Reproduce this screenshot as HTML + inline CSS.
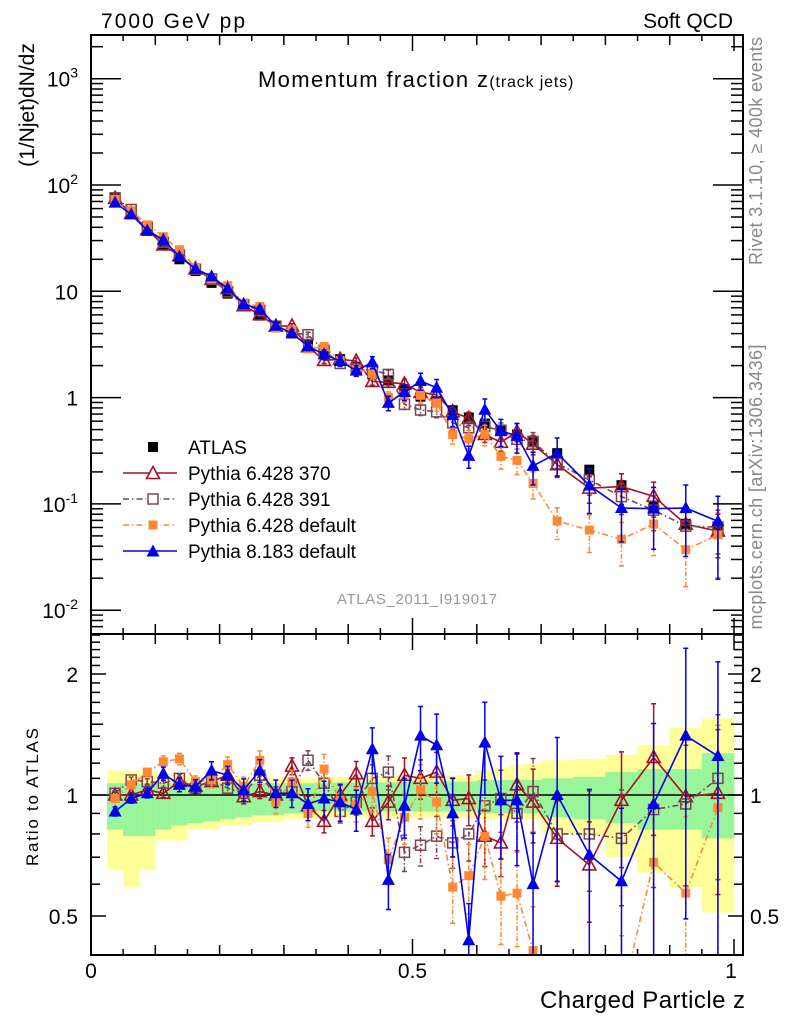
<!DOCTYPE html>
<html><head><meta charset="utf-8"><style>
html,body{margin:0;background:#fff;width:786px;height:1024px;overflow:hidden;font-family:"Liberation Sans",sans-serif}
svg{position:absolute;left:0;top:0;display:block}
text{font-family:"Liberation Sans",sans-serif}
</style></head><body>
<svg id="chart" width="786" height="1024" viewBox="0 0 786 1024" xmlns="http://www.w3.org/2000/svg">
<g id="ratioBands"></g>
<g id="marks"></g>
<g id="axes"></g>
<text x="101" y="28" font-size="21" textLength="144">7000 GeV pp</text>
<text x="733" y="28" font-size="21" text-anchor="end">Soft QCD</text>
<text x="258" y="87" font-size="22"><tspan textLength="230">Momentum fraction z</tspan><tspan font-size="16" textLength="84">(track jets)</tspan></text>
<text transform="translate(34,105) rotate(-90)" font-size="21" text-anchor="middle">(1/Njet)dN/dz</text>
<text transform="translate(38,797) rotate(-90)" font-size="17" text-anchor="middle" textLength="138">Ratio to ATLAS</text>
<text x="745" y="1008" font-size="24" text-anchor="end" textLength="205">Charged Particle z</text>
<text transform="translate(762,151) rotate(-90)" font-size="18" fill="#888" text-anchor="middle" textLength="228">Rivet 3.1.10, ≥ 400k events</text>
<text transform="translate(762,487) rotate(-90)" font-size="18" fill="#888" text-anchor="middle" textLength="285">mcplots.cern.ch [arXiv:1306.3436]</text>
<text x="417" y="604" font-size="15" fill="#999" text-anchor="middle" textLength="160">ATLAS_2011_I919017</text>
<g id="legend"></g>
</svg>
<script>
const binCenters=[0.0375,0.0625,0.0875,0.1125,0.1375,0.1625,0.1875,0.2125,0.2375,0.2625,0.2875,0.3125,0.3375,0.3625,0.3875,0.4125,0.4375,0.4625,0.4875,0.5125,0.5375,0.5625,0.5875,0.6125,0.6375,0.6625,0.6875,0.725,0.775,0.825,0.875,0.925,0.975];
const binHalfWidths=[0.0125,0.0125,0.0125,0.0125,0.0125,0.0125,0.0125,0.0125,0.0125,0.0125,0.0125,0.0125,0.0125,0.0125,0.0125,0.0125,0.0125,0.0125,0.0125,0.0125,0.0125,0.0125,0.0125,0.0125,0.0125,0.0125,0.0125,0.025,0.025,0.025,0.025,0.025,0.025];
const atlasValues=[75,54,37,27,20,15.5,12,9.5,7.4,5.9,4.7,4.0,3.2,2.6,2.3,1.95,1.65,1.45,1.2,1.02,0.93,0.76,0.65,0.57,0.50,0.45,0.38,0.30,0.21,0.15,0.095,0.065,0.055];
const ratio370=[1.0,1.0,1.03,1.01,1.08,1.05,1.08,1.12,0.99,1.02,1.0,1.18,0.94,0.86,1.0,1.13,0.86,0.96,1.12,1.10,1.14,0.97,0.98,0.79,0.76,1.06,0.96,0.78,0.67,0.97,1.24,0.99,1.01];
const ratio391=[1.01,1.09,1.08,1.07,1.10,1.04,1.09,1.04,1.01,1.12,1.0,1.02,1.22,1.07,0.91,0.96,1.10,1.14,0.72,0.75,0.79,0.76,0.80,0.94,0.98,0.90,1.02,0.80,0.80,0.78,0.92,0.95,1.10];
const ratioP6def=[0.98,1.06,1.14,1.21,1.23,1.08,1.09,1.19,1.05,1.22,0.96,1.08,0.90,1.16,0.97,0.95,1.02,0.69,0.88,1.03,0.96,0.59,0.63,0.79,0.56,0.57,0.41,0.23,0.27,0.31,0.68,0.57,0.93];
const ratioP8=[0.91,0.98,1.01,1.13,1.06,1.05,1.15,1.12,1.03,1.15,1.01,1.01,0.95,0.98,0.96,0.92,1.30,0.615,0.94,1.405,1.33,0.90,0.435,1.35,0.97,0.97,0.60,1.0,0.71,0.61,0.95,1.405,1.25];
const relErrMC=[0.02,0.02,0.02,0.03,0.03,0.03,0.04,0.04,0.05,0.05,0.06,0.06,0.07,0.08,0.08,0.09,0.10,0.12,0.13,0.14,0.15,0.17,0.18,0.20,0.22,0.24,0.26,0.30,0.35,0.40,0.45,0.50,0.55];
const bandYellowHi=[1.15,1.15,1.14,1.13,1.12,1.11,1.10,1.10,1.10,1.10,1.10,1.10,1.10,1.11,1.11,1.11,1.11,1.11,1.12,1.12,1.12,1.12,1.12,1.15,1.17,1.19,1.20,1.22,1.23,1.26,1.33,1.47,1.55];
const bandYellowLo=[0.65,0.59,0.65,0.77,0.77,0.82,0.82,0.84,0.84,0.856,0.856,0.873,0.873,0.878,0.878,0.878,0.878,0.878,0.88,0.88,0.88,0.88,0.88,0.87,0.87,0.87,0.87,0.80,0.79,0.70,0.64,0.59,0.51];
const bandGreenHi=[1.07,1.07,1.07,1.07,1.07,1.07,1.07,1.07,1.07,1.07,1.07,1.07,1.07,1.075,1.075,1.075,1.075,1.075,1.08,1.08,1.08,1.08,1.08,1.09,1.09,1.09,1.09,1.10,1.11,1.14,1.16,1.16,1.27];
const bandGreenLo=[0.82,0.79,0.79,0.82,0.84,0.85,0.86,0.87,0.88,0.89,0.89,0.90,0.90,0.91,0.91,0.91,0.91,0.91,0.91,0.91,0.91,0.91,0.91,0.90,0.90,0.90,0.90,0.88,0.87,0.85,0.82,0.82,0.78];
const mainTickLabels=["10","10","10","1","10","10"];
const ratioTickLabels=["2","1","0.5"];
const xTickLabels=["0","0.5","1"];

const NS="http://www.w3.org/2000/svg";
const L=91,R=743,T=35,MB=634,RB=955;
const xs=z=>L+643*z;
const ym=v=>185-(Math.log10(v)-2)*106.3;
const yr=r=>795-Math.log2(r)*121;
function mk(tag,attrs,parent){const e=document.createElementNS(NS,tag);for(const k in attrs)e.setAttribute(k,attrs[k]);parent.appendChild(e);return e;}
const axes=document.getElementById('axes'),marks=document.getElementById('marks'),bands=document.getElementById('ratioBands'),leg=document.getElementById('legend');
const defs=mk('defs',{},document.getElementById('chart'));
const cp1=mk('clipPath',{id:'cMain'},defs);mk('rect',{x:L,y:T,width:R-L,height:MB-T},cp1);
const cp2=mk('clipPath',{id:'cRat'},defs);mk('rect',{x:L,y:MB,width:R-L,height:RB-MB},cp2);

binCenters.forEach((c,i)=>{
  const x0=xs(c-binHalfWidths[i]),x1=xs(c+binHalfWidths[i]);
  const y=mk('rect',{x:x0,y:yr(bandYellowHi[i]),width:x1-x0+0.3,height:yr(bandYellowLo[i])-yr(bandYellowHi[i]),fill:'#ffff99'},bands);
  
  
  const g=mk('rect',{x:x0,y:yr(bandGreenHi[i]),width:x1-x0+0.3,height:yr(bandGreenLo[i])-yr(bandGreenHi[i]),fill:'#99f599'},bands);
  
  
});
const one=mk('line',{x1:L,x2:R,y1:yr(1),y2:yr(1),stroke:'#000','stroke-width':1.5},bands);



function marker(type,color,x,y,parent,s){
  s=s||1;let e;
  if(type==='sq'){e=mk('rect',{x:x-5*s,y:y-5*s,width:10*s,height:10*s,fill:color},parent);}
  else if(type==='osq'){e=mk('rect',{x:x-5*s,y:y-5*s,width:10*s,height:10*s,fill:'none',stroke:color,'stroke-width':1.5},parent);}
  else if(type==='tri'){e=mk('polygon',{points:`${x},${y-7*s} ${x-6.5*s},${y+5*s} ${x+6.5*s},${y+5*s}`,fill:color},parent);}
  else if(type==='otri'){e=mk('polygon',{points:`${x},${y-7*s} ${x-6.5*s},${y+5*s} ${x+6.5*s},${y+5*s}`,fill:'none',stroke:color,'stroke-width':1.6},parent);}
  else if(type==='fsq'){e=mk('rect',{x:x-4.5*s,y:y-4.5*s,width:9*s,height:9*s,fill:color},parent);}
  return e;
}
const series=[
 {name:'pythia-6-370',ratios:ratio370,color:'#a3112a',marker:'otri',dash:'',errScale:0.8},
 {name:'pythia-6-391',ratios:ratio391,color:'#7a4456',marker:'osq',dash:'6,3,1.5,3',errScale:0.8},
 {name:'pythia-6-default',ratios:ratioP6def,color:'#ff8833',marker:'fsq',dash:'6,3,1.5,3',errScale:1.1},
 {name:'pythia-8-default',ratios:ratioP8,color:'#0000ee',marker:'tri',dash:'',errScale:1.3}
];
const gm=mk('g',{'clip-path':'url(#cMain)'},marks);
const gr=mk('g',{'clip-path':'url(#cRat)'},marks);
binCenters.forEach((c,i)=>{
  const m=marker('sq','#000',xs(c),ym(atlasValues[i]),gm);
  
  
});
series.forEach(s=>{
  [[gm,(i)=>ym(atlasValues[i]*s.ratios[i]),(i,f)=>ym(atlasValues[i]*s.ratios[i]*f)],[gr,(i)=>yr(s.ratios[i]),(i,f)=>yr(s.ratios[i]*f)]].forEach(([par,yf,yef])=>{
    const pts=binCenters.map((c,i)=>xs(c)+','+yf(i)).join(' ');
    const pl=mk('polyline',{points:pts,fill:'none',stroke:s.color,'stroke-width':1.6,'stroke-dasharray':s.dash},par);
    
    
    binCenters.forEach((c,i)=>{
      const e=relErrMC[i]*s.errScale;
      const x=xs(c),y1=yef(i,1+e),y2=yef(i,Math.max(0.01,1-e));
      const eb=mk('path',{d:`M${x},${y1}V${y2}M${x-2.5},${y1}H${x+2.5}M${x-2.5},${y2}H${x+2.5}`,stroke:s.color,'stroke-width':1.5,fill:'none','stroke-dasharray':s.dash?'5,2,1.5,2':''},par);
      
      
      const m=marker(s.marker,s.color,x,yf(i),par);
      
      
    });
  });
});

[[T,MB],[MB,RB]].forEach(([a,b])=>{
  const f=mk('rect',{x:L,y:a,width:R-L,height:b-a,fill:'none',stroke:'#000','stroke-width':2},axes);
  
  
});
function tick(x1,y1,x2,y2,w){mk('line',{x1,y1,x2,y2,stroke:'#000','stroke-width':w||1.5},axes);}
for(let k=0;k<=20;k++){
  const z=k*0.05,x=xs(z);
  const len=(k%10===0)?16:(k%2===0?10:6);
  [[T,1],[MB,-1],[MB,1],[RB,-1]].forEach(([y,d])=>tick(x,y,x,y+d*len));
}
xTickLabels.forEach((t,i)=>{
  const z=i*0.5;
  const e=mk('text',{x:xs(z)-(i===2?3:0),y:978,'font-size':21,'text-anchor':'middle'},axes);e.textContent=t;
  
  
});
for(let d=-3;d<=3;d++){
  for(let m=1;m<10;m++){
    const v=m*Math.pow(10,d),y=ym(v);
    if(y<T||y>MB)continue;
    const len=m===1?30:12;
    tick(L,y,L+len,y);tick(R,y,R-len,y);
  }
}
const decades=[3,2,1,0,-1,-2];
decades.forEach((d,i)=>{
  const y=ym(Math.pow(10,d));
  const e=mk('text',{x:78,y:y+8,'font-size':21,'text-anchor':'end'},axes);
  
  
  e.textContent=mainTickLabels[i];
  if(d!==1&&d!==0){const ts=mk('tspan',{dy:-9,'font-size':14},e);ts.textContent=String(d);}
});
[0.4,0.5,0.6,0.7,0.8,0.9,1,1.1,1.2,1.3,1.4,1.5,1.6,1.7,1.8,1.9,2,2.1,2.2,2.3,2.4,2.5].forEach(r=>{
  const y=yr(r);if(y<MB+1||y>RB-1)return;
  const len=(r===0.5||r===1||r===2)?15:(r===1.5?12:9);
  tick(L,y,L+len,y);tick(R,y,R-len,y);
});
[2,1,0.5].forEach((r,i)=>{
  const y=yr(r);
  const a=mk('text',{x:78,y:y+8,'font-size':21,'text-anchor':'end'},axes);a.textContent=ratioTickLabels[i];
  
  
  const b=mk('text',{x:750,y:y+8,'font-size':21},axes);b.textContent=ratioTickLabels[i];
  
  
});
const legItems=[['ATLAS','sq','#000',''],['Pythia 6.428 370','otri','#a3112a',''],['Pythia 6.428 391','osq','#7a4456','6,3,1.5,3'],['Pythia 6.428 default','fsq','#ff8833','6,3,1.5,3'],['Pythia 8.183 default','tri','#0000ee','']];
legItems.forEach((it,i)=>{
  const y=447+i*26;
  const g=mk('g',{},leg);
  
  
  if(i>0)mk('line',{x1:123,x2:177,y1:y,y2:y,stroke:it[2],'stroke-width':1.6,'stroke-dasharray':it[3]},g);
  if(i>0&&it[1]!=='tri'&&it[1]!=='otri'){mk('rect',{x:146,y:y-6,width:14,height:12,fill:'#fff'},g);}
  if(it[1]==='otri')mk('polygon',{points:`${153},${y-7} ${146.5},${y+5} ${159.5},${y+5}`,fill:'#fff'},g);
  marker(it[1],it[2],153,y+(it[1].includes('tri')?0.5:0),g);
  const t=mk('text',{x:188,y:y+7,'font-size':19},g);t.textContent=it[0];
});
</script>
</body></html>
